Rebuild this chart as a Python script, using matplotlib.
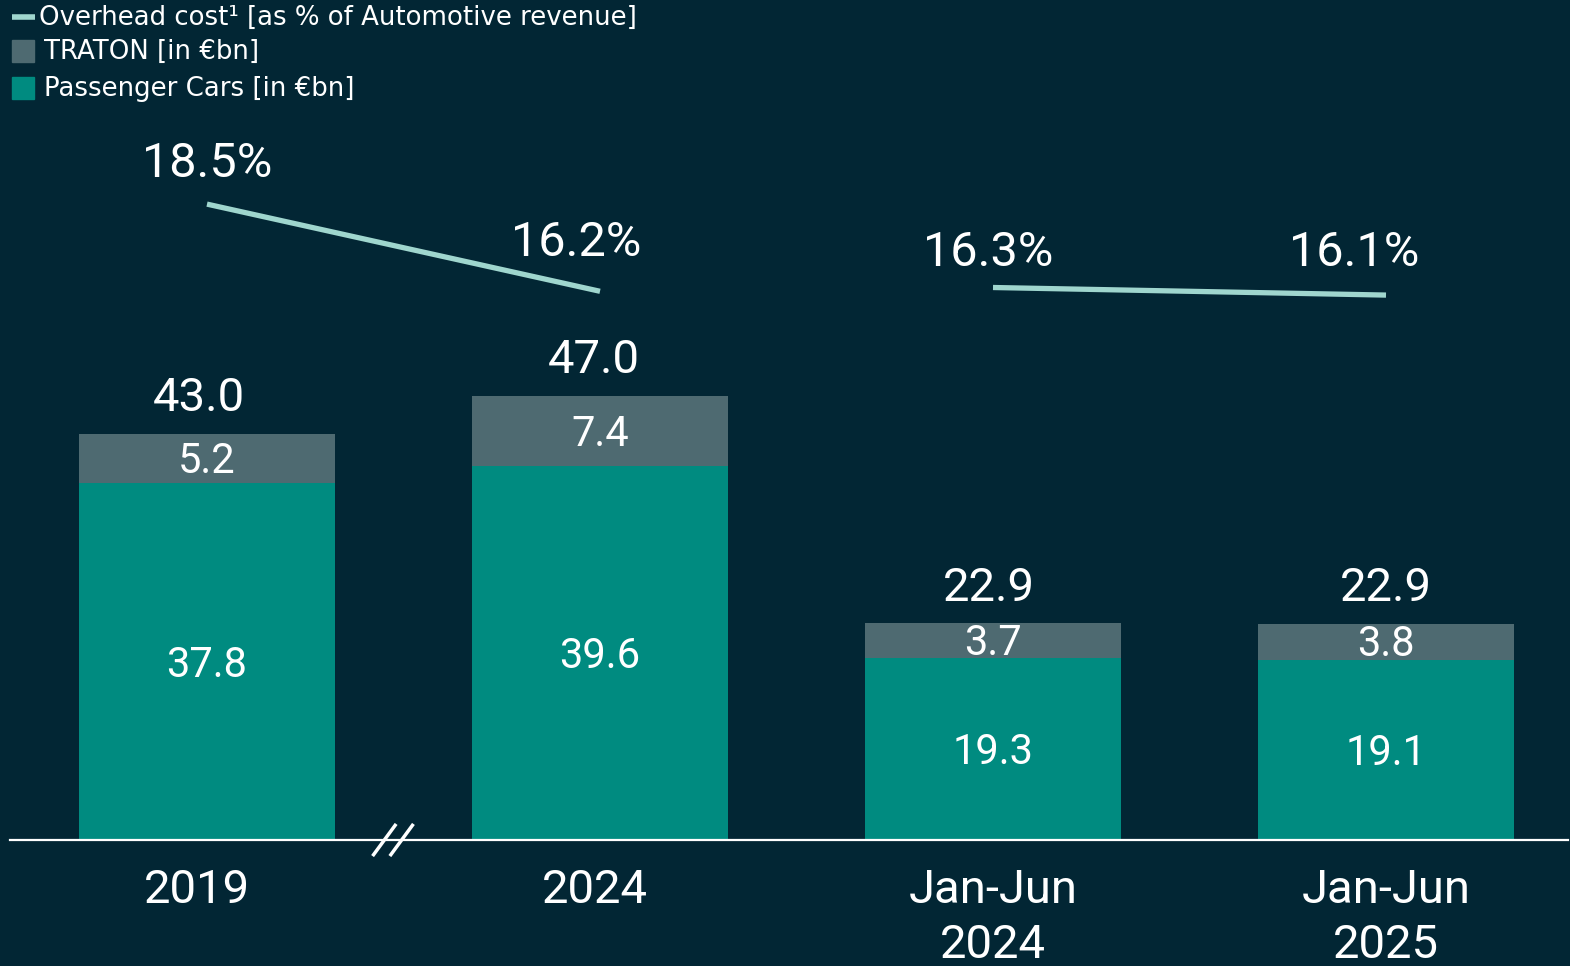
import matplotlib
matplotlib.use('Agg')
import matplotlib.pyplot as plt
from matplotlib.patches import Rectangle
from matplotlib.lines import Line2D

# ── data ────────────────────────────────────────────────────────────────
periods = ['2019', '2024', 'Jan-Jun\n2024', 'Jan-Jun\n2025']
passenger_cars = [37.8, 39.6, 19.3, 19.1]
traton = [5.2, 7.4, 3.7, 3.8]
totals = [43.0, 47.0, 22.9, 22.9]
overhead_pct = [18.5, 16.2, 16.3, 16.1]
pct_labels = ['18.5%', '16.2%', '16.3%', '16.1%']

BG = '#022634'
TEAL = '#008B80'
GREY = '#4E6A71'
LINE = '#9FD6CE'
WHITE = 'white'

plt.rcParams['font.family'] = ['Roboto', 'DejaVu Sans']

W, H = 1570, 966
fig = plt.figure(figsize=(W / 100, H / 100), dpi=100, facecolor=BG)
ax = fig.add_axes([0, 0, 1, 1])
ax.set_facecolor(BG)
ax.axis('off')

# pixel layout: bar centres 207 + 393*i, baseline at y=840, 9.45 px per €bn
x0, step, px_per_bn, base_px = 207, 393, 9.45, 840
ax.set_xlim(-x0 / step, (W - x0) / step)
ax.set_ylim(-(H - base_px) / px_per_bn, base_px / px_per_bn)

xs = list(range(len(periods)))
bw = 256 / step
ax.bar(xs, passenger_cars, width=bw, color=TEAL, zorder=2)
ax.bar(xs, traton, width=bw, bottom=passenger_cars, color=GREY, zorder=2)

tot_dx = [-0.02, -0.015, -0.01, 0.0]
for x, pc, tr, tot, dx in zip(xs, passenger_cars, traton, totals, tot_dx):
    ax.text(x, pc / 2 - 0.4, f'{pc:.1f}', ha='center', va='center',
            color=WHITE, fontsize=30)
    ax.text(x, pc + tr / 2 - 0.35, f'{tr:.1f}', ha='center', va='center',
            color=WHITE, fontsize=30)
    ax.text(x + dx, tot + 3.8, f'{tot:.1f}', ha='center', va='center',
            color=WHITE, fontsize=34)

# period labels
per_dx = [-0.025, -0.013, 0.0, 0.0]
for x, lab, dx in zip(xs, periods, per_dx):
    ax.text(x + dx, -3.0, lab, ha='center', va='top', color=WHITE,
            fontsize=34, linespacing=1.3)

# baseline with break mark between 2019 and 2024
ax.axhline(0, xmin=10 / W, xmax=1568 / W, color=WHITE, lw=1.6, zorder=3)
bx = (393 - x0) / step
for dx in (-0.022, 0.022):
    ax.plot([bx + dx - 0.03, bx + dx + 0.03], [-1.7, 1.7],
            color=WHITE, lw=2.5, zorder=4, solid_capstyle='butt')

# overhead cost line on its own scale
ax2 = ax.twinx()
ax2.axis('off')
pct_ref, pct_px, px_per_pct = 16.775, 269.5, 37.9
ax2.set_ylim(pct_ref - (H - pct_px) / px_per_pct, pct_ref + pct_px / px_per_pct)
for seg in ((0, 1), (2, 3)):
    ax2.plot([xs[i] for i in seg], [overhead_pct[i] for i in seg],
             color=LINE, lw=3.8, solid_capstyle='butt', zorder=5)
lab_dx = [0.0, -0.06, -0.013, -0.08]
lab_dy = [1.05, 1.28, 0.91, 1.10]
for x, v, lab, dx, dy in zip(xs, overhead_pct, pct_labels, lab_dx, lab_dy):
    ax2.text(x + dx, v + dy, lab, ha='center', va='center',
             color=WHITE, fontsize=35)

# legend (top left, figure pixel coords)
def fx(px):
    return px / W

def fy(py):
    return 1 - py / H

LEG_FONT = dict(color=WHITE, fontsize=18.7, ha='left', va='center',
                family=['DejaVu Sans'])
fig.add_artist(Line2D([fx(12), fx(35)], [fy(17), fy(17)], color=LINE, lw=4,
                      solid_capstyle='butt'))
fig.add_artist(Rectangle((fx(12), fy(62)), fx(22), 22 / H, color=GREY))
fig.add_artist(Rectangle((fx(12), fy(99)), fx(22), 22 / H, color=TEAL))
fig.text(fx(39), fy(18), 'Overhead cost¹ [as % of Automotive revenue]', **LEG_FONT)
fig.text(fx(44), fy(52), 'TRATON [in €bn]', **LEG_FONT)
fig.text(fx(44), fy(89), 'Passenger Cars [in €bn]', **LEG_FONT)

fig.savefig('out.png', dpi=100, facecolor=BG)
